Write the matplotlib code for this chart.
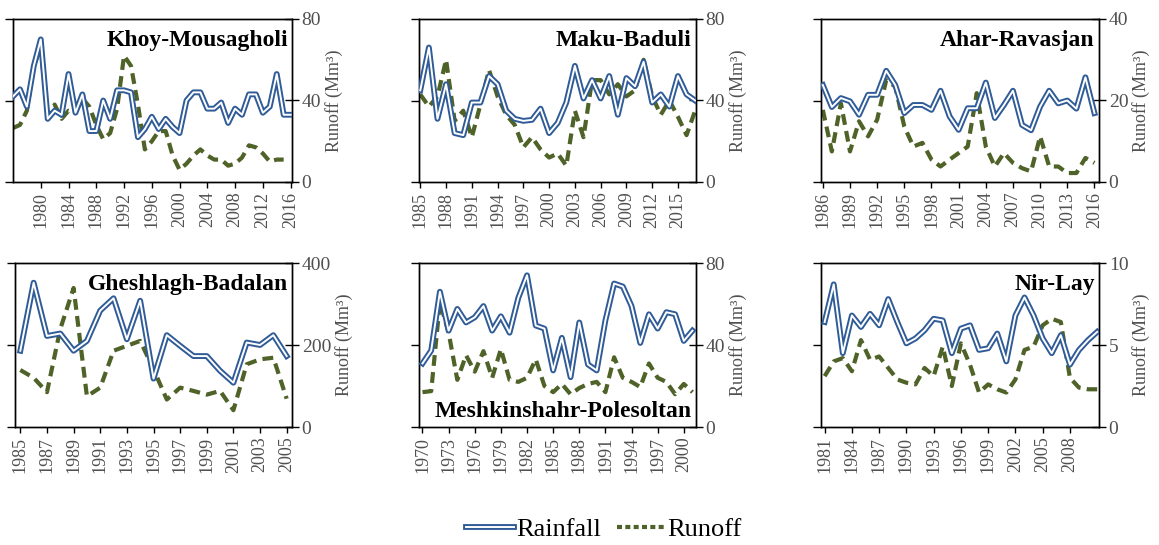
import matplotlib.pyplot as plt
import numpy as np
from matplotlib.lines import Line2D

plt.rcParams['font.family'] = ['Liberation Serif', 'DejaVu Serif']

# ---- data ----
khoy_years = np.arange(1976, 2017)
khoy_rain = [42, 45.5, 37, 57, 70, 31, 35, 33, 53, 34, 43, 25, 25, 40, 31, 45, 45, 44, 22, 26,
             32, 26, 31, 27, 24, 40, 44, 44, 36, 36, 39, 29, 36, 33, 43, 43, 34, 37, 53, 33, 33]
khoy_runoff = [26.5, 28, 35, 57, 66, 32, 38, 31, 35, 34, 41, 37, 28, 21, 24, 36, 62, 57, 38, 16,
               20, 25, 25, 13, 6, 9, 13, 16, 13, 11, 11, 8, 9, 12, 18, 17, 14, 10, 11, 11]

maku_years = np.arange(1985, 2018)
maku_rain = [45, 66, 31, 48, 24, 23, 39, 39, 52, 48, 35, 31, 30, 30.5, 36, 24, 29, 39, 57, 41,
             50, 41, 52, 33, 51, 47, 59, 39, 43, 37, 52, 43, 40]
maku_runoff = [43, 37, 42, 60, 30, 35, 22, 38, 55, 42, 33, 28, 17, 22, 16, 12, 14, 8, 35, 22,
               50, 50, 43, 48, 42, 45, 60, 42, 33, 40, 32, 23, 35]

ahar_years = np.arange(1986, 2017)
ahar_rain = [23.8, 18.4, 20.6, 19.8, 16.5, 21.4, 21.4, 27.3, 23.8, 16.9, 18.9, 18.9, 17.7, 22.4,
             16.1, 12.8, 18.1, 18.1, 24.4, 15.7, 18.9, 22.4, 14, 12.7, 18.5, 22.4, 19.3, 20, 18,
             25.7, 16.9]
ahar_runoff = [17.7, 7.5, 19.3, 7.5, 14.9, 11.2, 15.3, 25, 23.4, 13.6, 8.7, 9.6, 5.5, 3.8, 5.5,
               7.1, 8.7, 21.8, 8.7, 3.8, 7.1, 4.7, 3.4, 2.6, 11.2, 3.8, 3.8, 2.2, 2.2, 5.9, 4.7]

ghesh_years = np.arange(1985, 2006)
ghesh_rain = [186, 352, 222, 228, 186, 210, 284, 314, 214, 308, 118, 224, 198, 173, 173, 137,
              108, 206, 200, 224, 173]
ghesh_runoff = [139, 120, 85, 239, 339, 75, 96, 186, 198, 210, 141, 67, 96, 88, 79, 88, 41, 153,
                165, 169, 69]

meshk_years = np.arange(1970, 2002)
meshk_rain = [31, 37.3, 66, 47, 57.6, 51, 53.5, 59, 47, 54, 46, 63, 74, 49.5, 48, 27.6, 43.5,
              24.3, 51, 30.5, 27.6, 52, 70, 68.5, 59, 41, 55, 48, 56, 55, 42, 47]
meshk_runoff = [17, 17.5, 61, 46, 23, 35, 27, 37, 24, 38, 23, 22, 24, 33, 20, 17, 21, 16, 19, 21,
                22, 17, 34, 24, 22, 19.5, 31, 24, 22, 16, 21, 17]

nir_years = np.arange(1981, 2012)
nir_rain = [6.4, 8.7, 4.5, 6.8, 6.1, 6.9, 6.2, 7.8, 6.4, 5.1, 5.4, 5.9, 6.6, 6.5, 4.5, 6.0, 6.2,
            4.7, 4.8, 5.7, 4.0, 6.8, 7.9, 6.8, 5.4, 4.5, 5.6, 3.8, 4.7, 5.3, 5.8]
nir_runoff = [3.1, 4.0, 4.2, 3.4, 5.3, 4.1, 4.3, 3.6, 2.9, 2.7, 2.6, 3.6, 3.1, 4.9, 2.5, 5.1, 3.8,
              2.1, 2.6, 2.3, 2.1, 2.9, 4.7, 4.9, 6.2, 6.6, 6.4, 3.0, 2.4, 2.3, 2.3]

stations = ['Khoy-Mousagholi', 'Maku-Baduli', 'Ahar-Ravasjan',
            'Gheshlagh-Badalan', 'Meshkinshahr-Polesoltan', 'Nir-Lay']
ymax = [80, 80, 40, 400, 80, 10]

BLUE = '#2f5b97'
GREEN = '#4f6228'
GRAY = '#505050'

W, H = 1159, 545
fig = plt.figure(figsize=(W / 100, H / 100), dpi=100)


def add_panel(px, series, name, top, xlim, ticks, name_pos='top'):
    l, t, r, b = px
    ax = fig.add_axes([l / W, 1 - b / H, (r - l) / W, (b - t) / H])
    years, rain, runoff = series
    ax.plot(years, rain, color=BLUE, lw=4.2, solid_joinstyle='round', zorder=3)
    ax.plot(years, rain, color='white', lw=1.4, solid_joinstyle='round', zorder=4)
    ax2 = ax.twinx()
    ax2.plot(years[:len(runoff)], runoff, color=GREEN, lw=3.0, dashes=(2.6, 1.5), zorder=2)
    ax.set_zorder(ax2.get_zorder() + 1)
    ax.patch.set_visible(False)
    for a in (ax, ax2):
        a.set_ylim(0, top)
        a.set_yticks([0, top / 2, top])
        a.set_xlim(*xlim)
        for s in a.spines.values():
            s.set_linewidth(1.0)
    ax.tick_params(axis='y', direction='out', length=6, labelleft=False, width=1)
    ax2.tick_params(axis='y', direction='inout', length=10, width=1, labelsize=14,
                    labelcolor=GRAY, pad=2)
    ax2.set_ylabel('Runoff (Mm³)', fontsize=13, color=GRAY, labelpad=3)
    ax.set_xticks(ticks)
    ax.set_xticklabels([str(y) for y in ticks], rotation=90, fontsize=13, color=GRAY)
    ax.tick_params(axis='x', direction='out', length=4, width=1, pad=3)
    if name_pos == 'top':
        ax.text(0.985, 0.93, name, transform=ax.transAxes, ha='right', va='top',
                fontsize=17, fontweight='bold', zorder=6)
    else:
        ax.text(0.985, 0.03, name, transform=ax.transAxes, ha='right', va='bottom',
                fontsize=17, fontweight='bold', zorder=6)
    return ax


add_panel((13, 19, 292, 182), (khoy_years, khoy_rain, khoy_runoff), stations[0], ymax[0],
          (1976, 2016.2), list(range(1980, 2017, 4)))
add_panel((419, 19, 696, 182), (maku_years, maku_rain, maku_runoff), stations[1], ymax[1],
          (1984.85, 2017.1), list(range(1985, 2016, 3)))
add_panel((821, 19, 1099, 182), (ahar_years, ahar_rain, ahar_runoff), stations[2], ymax[2],
          (1985.8, 2016.5), list(range(1986, 2017, 3)))
add_panel((15, 263, 292, 427), (ghesh_years, ghesh_rain, ghesh_runoff), stations[3], ymax[3],
          (1984.6, 2005.4), list(range(1985, 2006, 2)))
add_panel((419, 263, 696, 427), (meshk_years, meshk_rain, meshk_runoff), stations[4], ymax[4],
          (1969.6, 2001.4), list(range(1970, 2001, 3)), name_pos='bottom')
add_panel((821, 263, 1099, 427), (nir_years, nir_rain, nir_runoff), stations[5], ymax[5],
          (1980.6, 2011.2), list(range(1981, 2009, 3)))

rain_handle = (Line2D([], [], color=BLUE, lw=4.2), Line2D([], [], color='white', lw=1.4))
runoff_handle = Line2D([], [], color=GREEN, lw=3.0, dashes=(1.2, 0.8))
fig.legend([rain_handle, runoff_handle], ['Rainfall', 'Runoff'], loc='center',
           bbox_to_anchor=(604 / W, 1 - 529 / H), ncol=2, frameon=False, fontsize=19,
           handlelength=1.8, handletextpad=0.1, columnspacing=0.6)

fig.savefig('out.png', dpi=100)
